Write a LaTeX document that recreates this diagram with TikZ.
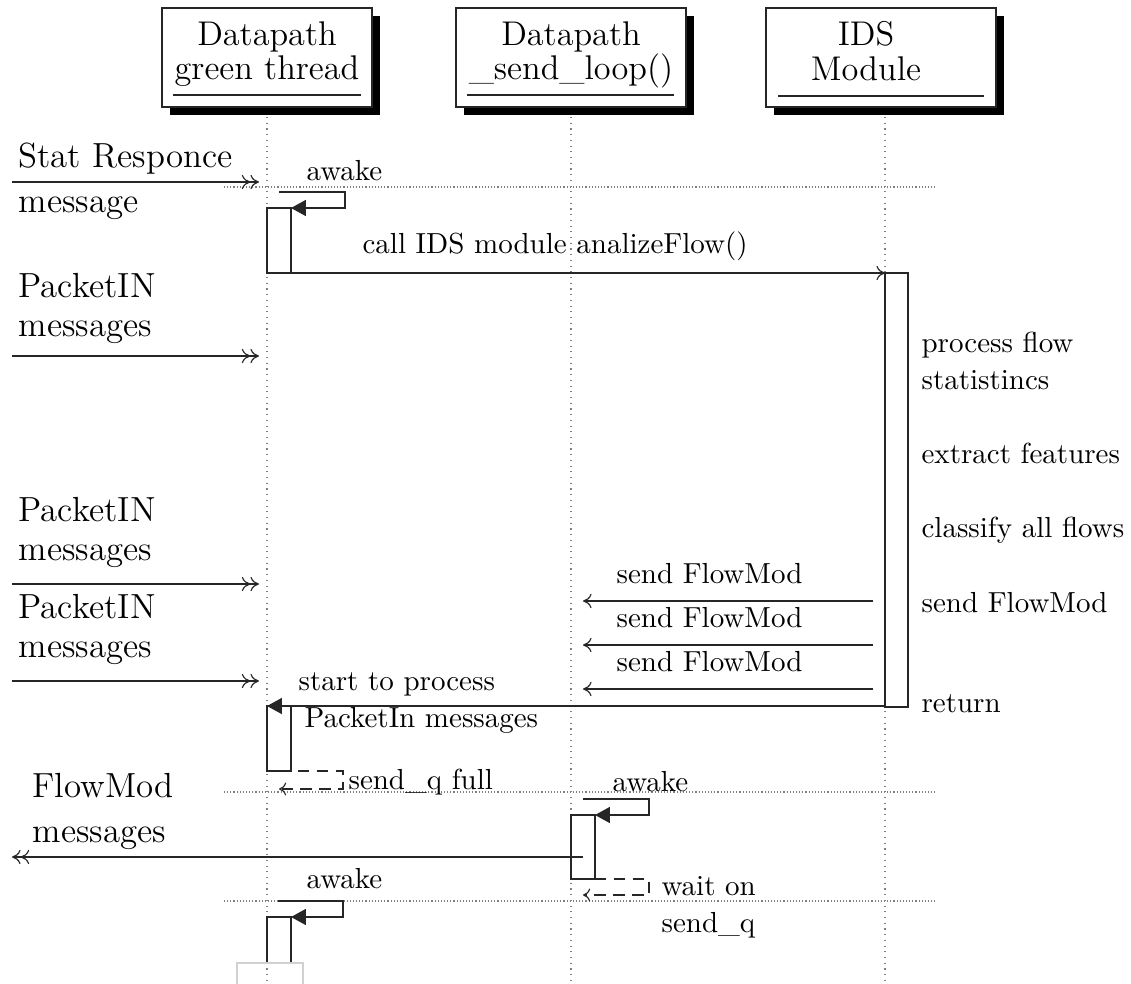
\documentclass[tikz,border=0pt]{standalone}
\usetikzlibrary{arrows.meta}
\begin{document}
\begin{tikzpicture}[x=0.35pt,y=-0.35pt,line width=0.4pt,
  hdr/.style={font=\fontsize{12}{14}\selectfont, inner sep=0pt, anchor=base},
  side/.style={font=\fontsize{12.2}{14}\selectfont, inner sep=0pt, anchor=base west},
  lbl/.style={font=\fontsize{10.15}{12}\selectfont, inner sep=0pt, anchor=base west},
  lifeline/.style={line width=0.4pt, draw=black!50, dash pattern=on 0.4pt off 1.6pt},
  phase/.style={line width=0.4pt, draw=black!50, dash pattern=on 0.4pt off 0.7pt},
  actbox/.style={draw=black!85, fill=white},
  hbox/.style={draw=black!85, fill=white},
  shade/.style={fill=black},
  extmsg/.style={draw=black!85, -{To[length=3pt,width=5pt]To[length=3pt,width=5pt]}},
  callmsg/.style={draw=black!85, -{To[length=3pt,width=5pt]}},
  syncmsg/.style={draw=black!85, -{Triangle[length=5.2pt,width=5.6pt]}},
  retmsg/.style={draw=black!85, dash pattern=on 4pt off 2.6pt, -{To[length=2.5pt,width=4.5pt]}},
]
\useasboundingbox (0,0) rectangle (1131,984);

% lifelines
\foreach \n/\x in {A/267,B/571,C/885}{
  \coordinate (\n top) at (\x,117);
  \coordinate (\n bot) at (\x,984);
  \draw[lifeline] (\n top) -- (\n bot);
}

% phase separators
\foreach \n/\y in {1/187,2/792,3/901}{
  \coordinate (ph\n a) at (224,\y);
  \coordinate (ph\n b) at (935,\y);
  \draw[phase] (ph\n a) -- (ph\n b);
}

% participant heads
\fill[shade] (170,16) rectangle (380,115);
\draw[hbox] (162,8) rectangle (372,107);
\node[hdr] (hA1) at (267,45) {Datapath};
\node[hdr] (hA2) at (267,79) {green thread};
\draw[black!85] (173,95) -- (361,95);

\fill[shade] (464,16) rectangle (694,115);
\draw[hbox] (456,8) rectangle (686,107);
\node[hdr] (hB1) at (571,45) {Datapath};
\node[hdr] (hB2) at (571,79) {\_send\_loop()};
\draw[black!85] (467,95) -- (674,95);

\fill[shade] (774,16) rectangle (1004,115);
\draw[hbox] (766,8) rectangle (996,107);
\node[hdr] (hC1) at (866,45) {IDS};
\node[hdr] (hC2) at (866,80) {Module};
\draw[black!85] (778,96) -- (984,96);

% incoming statistics reply
\node[side] (stat1) at (18,167) {Stat Responce};
\node[side] (stat2) at (18,212) {message};
\coordinate (st0) at (12,182);
\coordinate (st1) at (259,182);
\draw[extmsg] (st0) -- (st1);

% green thread wakes up
\node[lbl] (aw1) at (306,180) {awake};
\coordinate (aw1s) at (279,192);
\coordinate (aw1e) at (291,208);
\draw[actbox] (267,208) rectangle (291,273);
\draw[syncmsg] (aw1s) -- ++(66,0) |- (aw1e);

% call into the IDS module
\node[lbl] (callL) at (362,253) {call IDS module analizeFlow()};
\coordinate (c0) at (267,273);
\coordinate (c1) at (885,273);
\draw[callmsg] (c0) -- (c1);
\draw[actbox] (885,273) rectangle (908,707);

% IDS module steps
\node[lbl] (st1L) at (921,352) {process flow};
\node[lbl] (st2L) at (921,389) {statistincs};
\node[lbl] (st3L) at (921,463) {extract features};
\node[lbl] (st4L) at (921,537) {classify all flows};
\node[lbl] (st5L) at (921,612) {send FlowMod};
\node[lbl] (st6L) at (921,712) {return};

% queued PacketIN messages
\node[side] (pi1a) at (18,297) {PacketIN};
\node[side] (pi1b) at (18,336) {messages};
\coordinate (pi1s) at (12,356);
\coordinate (pi1e) at (259,356);
\draw[extmsg] (pi1s) -- (pi1e);

\node[side] (pi2a) at (18,521) {PacketIN};
\node[side] (pi2b) at (18,560) {messages};
\coordinate (pi2s) at (12,584);
\coordinate (pi2e) at (259,584);
\draw[extmsg] (pi2s) -- (pi2e);

\node[side] (pi3a) at (18,618) {PacketIN};
\node[side] (pi3b) at (18,657) {messages};
\coordinate (pi3s) at (12,681);
\coordinate (pi3e) at (259,681);
\draw[extmsg] (pi3s) -- (pi3e);

% FlowMods handed to the send loop
\foreach \i/\y in {1/601,2/645,3/689}{
  \node[lbl] (fmL\i) at (616,\y-18) {send FlowMod};
  \coordinate (fm\i s) at (873,\y);
  \coordinate (fm\i e) at (583,\y);
  \draw[callmsg] (fm\i s) -- (fm\i e);
}

% return to the green thread
\node[lbl] (retL1) at (298,690) {start to process};
\node[lbl] (retL2) at (304,727) {PacketIn messages};
\coordinate (rt0) at (885,706);
\coordinate (rt1) at (267,706);
\draw[actbox] (267,706) rectangle (291,771);
\draw[syncmsg] (rt0) -- (rt1);

% green thread blocks on the queue
\coordinate (q1s) at (279,771);
\coordinate (q1e) at (279,789);
\draw[retmsg] (q1s) -- ++(64,0) |- (q1e);
\node[lbl] (qfull) at (348,789) {send\_q full};

% send loop wakes up and flushes
\node[lbl] (aw2) at (612,791) {awake};
\coordinate (aw2s) at (583,799);
\coordinate (aw2e) at (595,815);
\draw[actbox] (571,815) rectangle (595,879);
\draw[syncmsg] (aw2s) -- ++(66,0) |- (aw2e);

\node[side] (fo1) at (32,797) {FlowMod};
\node[side] (fo2) at (32,842) {messages};
\coordinate (fo0) at (583,857);
\coordinate (fo1e) at (12,857);
\draw[extmsg] (fo0) -- (fo1e);

\coordinate (q2s) at (595,879);
\coordinate (q2e) at (583,895);
\draw[retmsg] (q2s) -- ++(54,0) |- (q2e);
\node[lbl] (wait1) at (661,895) {wait on};
\node[lbl] (wait2) at (661,932) {send\_q};

% green thread wakes up again
\node[lbl] (aw3) at (306,888) {awake};
\coordinate (aw3s) at (278,901);
\coordinate (aw3e) at (291,917);
\draw[black!85] (267,963) |- (291,917) -- (291,963);
\draw[syncmsg] (aw3s) -- ++(65,0) |- (aw3e);
\draw[draw=black!18] (237,984) |- (303,963) -- (303,984);
\end{tikzpicture}
\end{document}
